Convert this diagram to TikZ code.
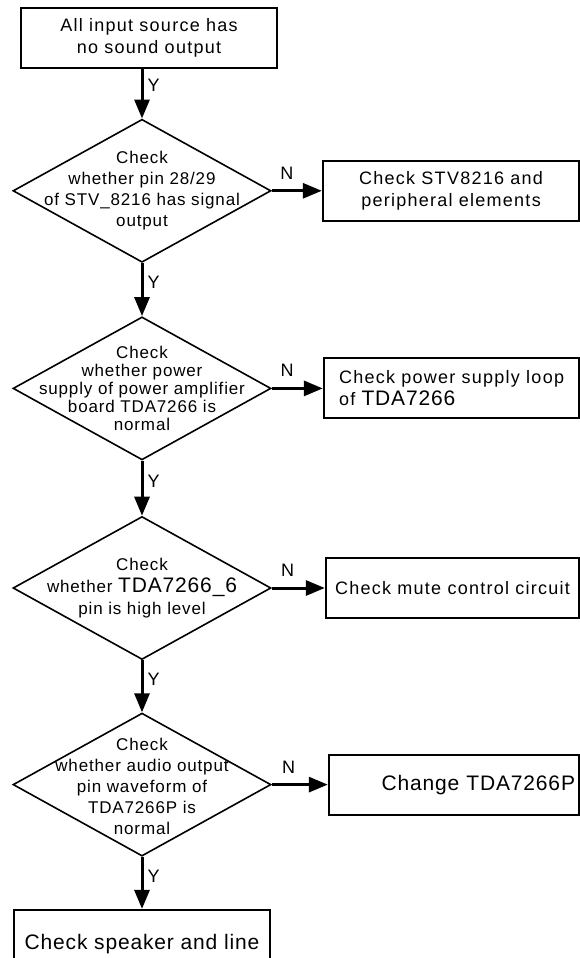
\documentclass[tikz,border=0pt]{standalone}
\usepackage{fontspec}
\setmainfont{Liberation Sans}[LetterSpace=7]
\newfontfamily\dfont{Liberation Sans}[LetterSpace=5]
\newfontfamily\lfont{Liberation Sans}[LetterSpace=4]
\usetikzlibrary{arrows.meta, positioning, shapes.geometric}
\tikzset{
  box/.style  = {draw, line width=1pt, align=center, font=\fontsize{9}{11}\selectfont,
                 minimum width=128pt, minimum height=30pt, inner sep=2pt},
  dec/.style  = {draw, shape=diamond, line width=0.8pt, inner sep=0pt,
                 minimum width=129pt, minimum height=71.5pt},
  dtxt/.style = {align=center, inner sep=0pt, font=\dfont\fontsize{8.5}{10.5}\selectfont},
  lab/.style  = {font=\fontsize{9}{10}\selectfont, inner sep=2pt},
  fl/.style   = {-{Triangle[length=9.5pt, width=7.5pt]}, line width=1.5pt},
}
\newcommand{\lrg}[1]{{\lfont\fontsize{10.5}{11}\selectfont #1}}

\begin{document}
\begin{tikzpicture}
    \useasboundingbox (0,0) rectangle (289.5pt,-479pt);
    % main column
    \node[box] (src) at (74.5pt,-18.75pt) {All input source has\\ no sound output};
    \node[dec, below=25pt of src, xshift=-3.5pt] (d1) {};
    \node[dtxt] (d1t) at (d1) {Check\\ whether pin 28/29\\ of STV\_8216 has signal\\ output};
    \node[dec, below=26.5pt of d1] (d2) {};
    \node[dtxt, font=\dfont\fontsize{8.5}{9}\selectfont] (d2t) at (d2) {Check\\ whether power\\ supply of power amplifier\\ board TDA7266 is\\ normal};
    \node[dec, below=27.5pt of d2] (d3) {};
    \node[dtxt, font=\dfont\fontsize{8.5}{11}\selectfont] (d3t) at (d3) {Check\\ whether \lrg{TDA7266\_6}\\ pin is high level};
    \node[dec, below=26pt of d3] (d4) {};
    \node[dtxt, yshift=-1pt] (d4t) at (d4) {Check\\ whether audio output\\ pin waveform of\\ TDA7266P is\\ normal};
    \node[box, below=26pt of d4, minimum height=34pt, font=\lfont\fontsize{10.5}{12}\selectfont] (fin) {Check speaker and line};
    % N branches
    \node[box, right=25pt of d1, minimum width=128.25pt] (b1) {Check STV8216 and\\ peripheral elements};
    \node[box, right=25.5pt of d2, minimum width=127.75pt, align=left] (b2) {Check power supply loop\\ of \lrg{TDA7266}};
    \node[box, right=26.5pt of d3, minimum width=126.75pt] (b3) {Check mute control circuit};
    \node[box, right=28pt of d4, minimum width=125.25pt, text width=121pt, align=right,
          font=\lfont\fontsize{10.5}{12}\selectfont] (b4) {Change TDA7266P};
    \draw[fl] (src.south -| d1.north) -- node[lab, right, pos=.34] (y0) {Y} (d1.north);
    \draw[fl] (d1.south) -- node[lab, right, pos=.37] (y1) {Y} (d2.north);
    \draw[fl] (d2.south) -- node[lab, right, pos=.37] (y2) {Y} (d3.north);
    \draw[fl] (d3.south) -- node[lab, right, pos=.37] (y3) {Y} (d4.north);
    \draw[fl] (d4.south) -- node[lab, right, pos=.37] (y4) {Y} (fin.north);
    \draw[fl] (d1.east) -- node[lab, above, pos=.3, yshift=3pt] (n1) {N} (b1.west);
    \draw[fl] (d2.east) -- node[lab, above, pos=.3, yshift=3pt] (n2) {N} (b2.west);
    \draw[fl] (d3.east) -- node[lab, above, pos=.3, yshift=3pt] (n3) {N} (b3.west);
    \draw[fl] (d4.east) -- node[lab, above, pos=.3, yshift=3pt] (n4) {N} (b4.west);
\end{tikzpicture}
\end{document}
